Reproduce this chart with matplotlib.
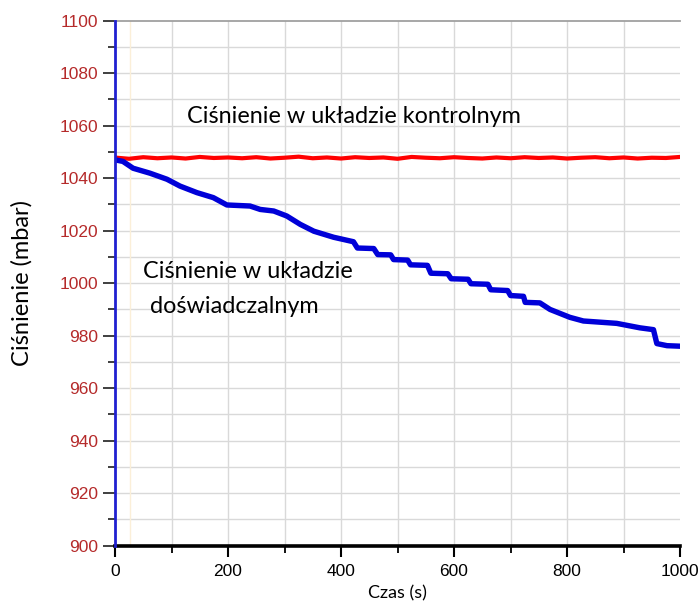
import matplotlib
matplotlib.use("Agg")
import matplotlib.pyplot as plt
from matplotlib.ticker import MultipleLocator

# ---- data ----
blue_t = [0, 14, 32, 62, 92, 115, 145, 174, 198, 239, 257, 281, 304, 328, 352,
          387, 422, 429, 458, 465, 488, 493, 518, 523, 553, 559, 589, 595, 625,
          630, 660, 665, 695, 700, 723, 726, 752, 770, 805, 829, 888, 929, 953,
          959, 977, 1000]
blue_p = [1047.0, 1046.4, 1043.8, 1041.9, 1039.6, 1037.0, 1034.5, 1032.6, 1029.8,
          1029.4, 1028.1, 1027.5, 1025.6, 1022.4, 1019.8, 1017.5, 1015.8, 1013.4,
          1013.2, 1010.9, 1010.8, 1009.0, 1008.8, 1007.0, 1006.8, 1003.8, 1003.6,
          1001.7, 1001.5, 999.8, 999.6, 997.5, 997.2, 995.3, 995.0, 992.7, 992.5,
          990.0, 987.0, 985.6, 984.7, 983.0, 982.3, 977.0, 976.2, 976.0]

red_t = [3, 25, 50, 75, 100, 125, 150, 175, 200, 225, 250, 275, 300, 325, 350,
         375, 400, 425, 450, 475, 500, 525, 550, 575, 600, 625, 650, 675, 700,
         725, 750, 775, 800, 825, 850, 875, 900, 925, 950, 975, 1000]
red_p = [1047.8, 1047.4, 1048.0, 1047.6, 1047.9, 1047.5, 1048.1, 1047.7, 1047.9,
         1047.6, 1048.0, 1047.5, 1047.8, 1048.2, 1047.6, 1047.9, 1047.5, 1048.0,
         1047.7, 1047.9, 1047.4, 1048.1, 1047.8, 1047.6, 1048.0, 1047.7, 1047.5,
         1047.9, 1047.6, 1048.0, 1047.7, 1047.9, 1047.5, 1047.8, 1048.0, 1047.6,
         1047.9, 1047.5, 1047.8, 1047.7, 1048.1]

x_major = [0, 200, 400, 600, 800, 1000]
y_major = [900, 920, 940, 960, 980, 1000, 1020, 1040, 1060, 1080, 1100]

# ---- figure ----
fig = plt.figure(figsize=(6.99, 6.04), dpi=100)
ax = fig.add_axes([115 / 699, 58.3 / 604, 565 / 699, 525 / 604])

ax.set_xlim(0, 1000)
ax.set_ylim(900, 1100)

# grid
for x in range(100, 1000, 100):
    ax.axvline(x, color="#d9d9d9", lw=1.0, zorder=0)
for y in range(910, 1100, 10):
    ax.axhline(y, color="#d9d9d9", lw=1.0, zorder=0)
ax.axvline(27, color="#fbefd8", lw=1.0, zorder=0)

ax.plot(red_t, red_p, color="#ff0000", lw=3.0, zorder=3)
ax.plot(blue_t, blue_p, color="#0000d8", lw=3.9, zorder=4)

# spines
ax.spines["right"].set_visible(False)
ax.spines["top"].set_color("#a0a0a0")
ax.spines["top"].set_linewidth(1.3)
ax.spines["left"].set_color("#2020d0")
ax.spines["left"].set_linewidth(2.0)
ax.spines["left"].set_zorder(5)
ax.spines["bottom"].set_color("black")
ax.spines["bottom"].set_linewidth(2.6)

# ticks
ax.set_xticks(x_major)
ax.set_xticklabels([str(v) for v in x_major])
ax.xaxis.set_minor_locator(MultipleLocator(100))
ax.set_yticks(y_major)
ax.set_yticklabels([str(v) for v in y_major])
ax.yaxis.set_minor_locator(MultipleLocator(10))

ax.tick_params(axis="x", which="major", length=8, width=1.5, color="black",
               labelsize=12.5, labelcolor="black", pad=5)
ax.tick_params(axis="x", which="minor", length=5, width=1.3, color="black")
ax.tick_params(axis="y", which="major", length=9, width=1.3, color="#303030",
               labelsize=12.5, labelcolor="#b52a2a", pad=3)
ax.tick_params(axis="y", which="minor", length=5, width=1.3, color="#303030")
for lab in ax.get_xticklabels() + ax.get_yticklabels():
    lab.set_family("Liberation Sans")

# labels
ax.set_xlabel("Czas (s)", fontsize=13, family="Lato", labelpad=5)
fig.text(21.7 / 699, 1 - 283.5 / 604, "Ciśnienie (mbar)", rotation=90,
         ha="center", va="center", fontsize=17, family="Lato")

ax.text(423, 1063.5, "Ciśnienie w układzie kontrolnym", ha="center", va="center",
        fontsize=16.8, family="Lato")
ax.text(50, 1004.5, "Ciśnienie w układzie", ha="left", va="center",
        fontsize=16.8, family="Lato")
ax.text(62, 991.1, "doświadczalnym", ha="left", va="center",
        fontsize=16.8, family="Lato")

fig.savefig("out.png", dpi=100)
